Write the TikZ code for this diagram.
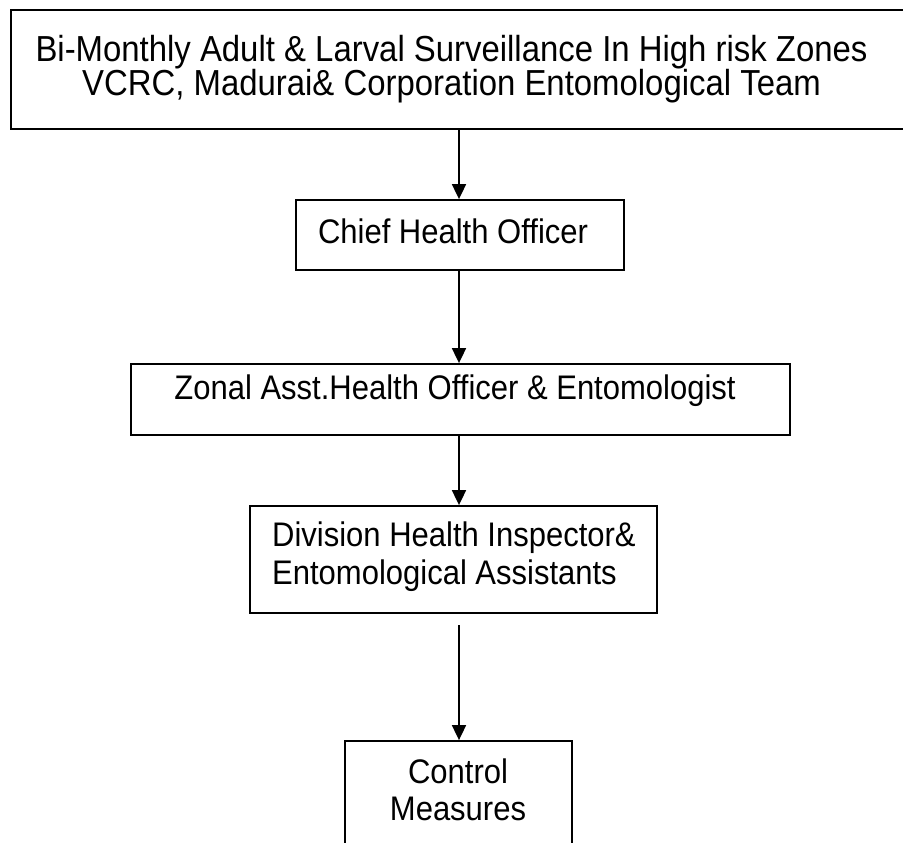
\documentclass[tikz,border=0pt]{standalone}
\usepackage{fontspec}
\setmainfont{Liberation Sans}
\usetikzlibrary{arrows.meta}
\tikzset{
  box/.style={draw=black, line width=1.8pt, rectangle, inner sep=0pt},
  label/.style={inner sep=0pt, font=\fontsize{31}{35}\selectfont, align=center, transform shape, yscale=1.1},
  flow/.style={draw=black, line width=1.8pt, -{Triangle[length=15pt,width=14pt]}},
}
\begin{document}
\begin{tikzpicture}[x=1pt, y=-1pt]
  \useasboundingbox (0,0) rectangle (903,843);
  \begin{scope}
    \clip (0,0) rectangle (903,843);
    % boxes
    \node[box, minimum width=904pt, minimum height=119pt] (team) at (463,69.5) {};
    \node[box, minimum width=328pt, minimum height=70pt] (cho) at (460,235) {};
    \node[box, minimum width=659pt, minimum height=71pt] (zonal) at (460.5,399.5) {};
    \node[box, minimum width=407pt, minimum height=107pt] (div) at (453.5,559.5) {};
    \node[box, minimum width=227pt, minimum height=119pt] (ctrl) at (458.5,800.5) {};
    % texts
    \node[label, font=\fontsize{32.9}{31}\selectfont] (t1) at (451.5,69.5) {Bi-Monthly Adult \& Larval Surveillance In High risk Zones\\VCRC, Madurai\& Corporation Entomological Team};
    \node[label] (t2) at (453,231) {Chief Health Officer};
    \node[label] (t3) at (455,391) {Zonal Asst.Health Officer \& Entomologist};
    \node[label, align=left, anchor=west, font=\fontsize{31}{34.5}\selectfont] (t4) at (272,557) {Division Health Inspector\&\\Entomological Assistants};
    \node[label, font=\fontsize{31}{33.5}\selectfont] (t5) at (458,790) {Control\\Measures};
    % connectors
    \coordinate (divout) at (459,625);
    \draw[flow] (team.south -| 459,0) -- (cho.north -| 459,0);
    \draw[flow] (cho.south -| 459,0) -- (zonal.north -| 459,0);
    \draw[flow] (zonal.south -| 459,0) -- (div.north -| 459,0);
    \draw[flow] (divout) -- (ctrl.north -| divout);
  \end{scope}
\end{tikzpicture}
\end{document}
